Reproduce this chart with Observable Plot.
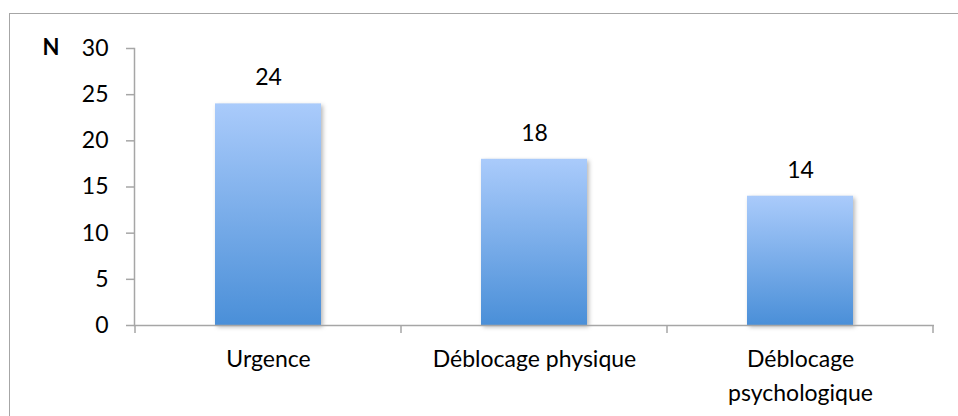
<!DOCTYPE html>
<html>
<head>
<meta charset="utf-8">
<script src="https://cdn.jsdelivr.net/npm/d3@7"></script>
<script src="https://cdn.jsdelivr.net/npm/@observablehq/plot@0.6"></script>
<style>
  html, body { margin: 0; padding: 0; background: #fff; }
  #wrap { position: relative; width: 958px; height: 416px; overflow: hidden; }
  #border { position: absolute; left: 9px; top: 13px; width: 1000px; height: 1000px; border: 1.5px solid #a6a6a6; pointer-events: none; }
  g[aria-label="bar"] rect { filter: drop-shadow(2px 2px 2px rgba(0,0,0,0.28)); }
</style>
</head>
<body>
<div id="wrap"><div id="border"></div></div>
<script>
const categories = ["Urgence", "Déblocage physique", "Déblocage psychologique"];
const counts = [24, 18, 14];
const tickLabels = ["Urgence", "Déblocage physique", "Déblocage\npsychologique"];
const yTicks = [0, 5, 10, 15, 20, 25, 30];
const yLabel = "N";

const data = categories.map((c, i) => ({category: c, n: counts[i]}));
const axisColor = "#a6a6a6";

const defs = () => {
  const d = d3.create("svg:defs");
  const g = d.append("linearGradient").attr("id", "barGrad")
    .attr("x1", 0).attr("y1", 0).attr("x2", 0).attr("y2", 1);
  g.append("stop").attr("offset", "0%").attr("stop-color", "#aacbfb");
  g.append("stop").attr("offset", "100%").attr("stop-color", "#4a8fd8");
  return d.node();
};

const chart = Plot.plot({
  width: 958,
  height: 416,
  marginLeft: 134,
  marginRight: 24,
  marginTop: 48,
  marginBottom: 91,
  style: {fontFamily: "Lato", fontSize: "23px", color: "#000", background: "transparent"},
  x: {domain: categories, paddingInner: 0.6, paddingOuter: 0.3, label: null},
  y: {domain: [0, 30], label: null},
  marks: [
    defs,
    Plot.barY(data, {x: "category", y: "n", fill: "url(#barGrad)"}),
    Plot.frame({anchor: "left", stroke: axisColor, strokeWidth: 1.5}),
    Plot.ruleY([0], {stroke: axisColor, strokeWidth: 1.5}),
    Plot.axisY({ticks: yTicks, tickSize: 8, tickPadding: 18, stroke: axisColor, strokeWidth: 1.5, fill: "#000", label: null, tickFormat: d => d, fontSize: 23}),
    Plot.axisX({tickSize: 0, tickPadding: 18, tickFormat: (d, i) => tickLabels[i], lineHeight: 1.45, fill: "#000", label: null, fontSize: 23}),
    Plot.text(data, {x: "category", y: "n", text: "n", dy: -26, fontSize: 23, fill: "#000"}),
    Plot.text([yLabel], {frameAnchor: "top-left", lineAnchor: "middle", text: d => d, dx: -92, dy: -1, fontWeight: "bold", fontSize: 22, fill: "#000"})
  ]
});

// category boundary ticks on the x axis, from the band scale
const xs = chart.scale("x");
const ys = chart.scale("y");
const step = xs.step, bw = xs.bandwidth;
const gap = (step - bw) / 2;
const bounds = xs.domain.map(d => xs.apply(d) - gap);
bounds.push(xs.apply(xs.domain[xs.domain.length - 1]) + bw + gap);
const y0 = ys.apply(0);
const g = d3.select(chart).append("g").attr("stroke", axisColor).attr("stroke-width", 1.5);
g.selectAll("line").data(bounds).join("line")
  .attr("x1", d => d).attr("x2", d => d)
  .attr("y1", y0).attr("y2", y0 + 8);

document.getElementById("wrap").prepend(chart);
</script>
</body>
</html>
